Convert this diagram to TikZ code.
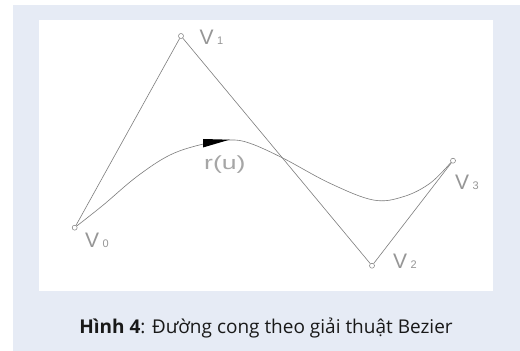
\documentclass[tikz,border=0pt]{standalone}
\usepackage{fontspec}
\setmainfont{Open Sans}
\newfontfamily\cadfont{Liberation Sans}
\definecolor{panelblue}{RGB}{230,235,245}
\definecolor{linegray}{RGB}{125,125,125}
\definecolor{labelgray}{RGB}{150,150,150}
\newcommand{\sub}[1]{{\fontsize{11}{11}\selectfont #1}}

\begin{document}
\begin{tikzpicture}[
  x=1pt,y=1pt,
  vertex/.style={circle,draw=linegray,line width=0.5pt,inner sep=0pt,minimum size=5pt},
  vlabel/.style={anchor=base west,inner sep=0pt,text=labelgray,font=\cadfont\fontsize{21}{21}\selectfont},
  polygon/.style={draw=linegray,line width=0.6pt}
]
  \useasboundingbox (0,0) rectangle (520,351);
  \fill[panelblue] (13,0) rectangle (520,346);
  \fill[white] (39,60) rectangle (493,331);

  \node[vertex] (V0) at (74.7,123.3) {};
  \node[vertex] (V1) at (181,315) {};
  \node[vertex] (V2) at (372,85.3) {};
  \node[vertex] (V3) at (453,190.3) {};

  \node[vlabel] (L0) at (85,103.7) {V\,\sub{0}};
  \node[vlabel] (L1) at (199.3,306) {V\,\sub{1}};
  \node[vlabel] (L2) at (393,82) {V\,\sub{2}};
  \node[vlabel] (L3) at (455,161) {V\,\sub{3}};

  % control polygon
  \draw[polygon] (V0) -- (V1);
  \draw[polygon] (V1) -- (V2);
  \draw[polygon] (V2) -- (V3);

  % the curve r(u)
  \draw[polygon] plot[smooth,tension=0.6] coordinates {(V0.40) (103.3,146) (136.7,174.3)
    (170,196) (203.3,207) (230,211) (250,207.7) (283.3,192.7) (330,167.7)
    (373.3,151) (403.3,154.3) (430,167.7) (V3.220)};
  \fill (203,212) -- (229.5,211.3) -- (203,203.5) -- cycle;
  \node[vlabel,text=labelgray!85,font=\cadfont\fontsize{19}{19}\selectfont] (ru) at (204,181)
    {\scalebox{1.4}[1]{r(u)}};

  \node[font=\fontsize{19}{19}\selectfont,text=black!90] (caption) at (266,23)
    {\textbf{Hình 4}: Đường cong theo giải thuật Bezier};
\end{tikzpicture}
\end{document}
